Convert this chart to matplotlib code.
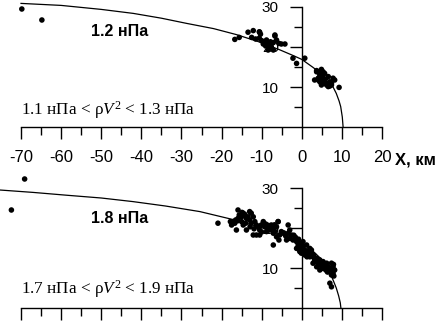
import matplotlib
matplotlib.use("Agg")
import matplotlib.pyplot as plt
from matplotlib.ticker import FixedLocator

plt.rcParams['font.family'] = ['Liberation Sans', 'DejaVu Sans']
plt.rcParams['mathtext.fontset'] = 'custom'
plt.rcParams['mathtext.rm'] = 'Liberation Serif'
plt.rcParams['mathtext.it'] = 'Liberation Serif:italic'

# ---------------- data ----------------
panel_labels = ["1.2 нПа", "1.8 нПа"]
range_labels = [r"1.1 нПа < ρ$V^2$ < 1.3 нПа", r"1.7 нПа < ρ$V^2$ < 1.9 нПа"]
x_ticks_major = [-70, -60, -50, -40, -30, -20, -10, 0, 10, 20]
x_tick_labels = ["-70", "-60", "-50", "-40", "-30", "-20", "-10", "0", "10", "20"]
y_ticks_major = [10, 20, 30]
y_tick_labels = ["10", "20", "30"]

# model curves
curve1_x = [-70, -60, -50, -42, -35, -28.7, -22, -16.3, -11, -5.5, -2, 0, 2.8, 5, 6.6, 7.8, 8.6, 9.3, 9.7, 10.1, 10.3]
curve1_y = [30.9, 30.4, 29.4, 28.4, 27.2, 25.9, 24.6, 23.1, 21.4, 19.3, 17.8, 16.9, 14.9, 13.2, 11.7, 10.0, 8.4, 6.5, 5.1, 2.5, 0.0]
curve2_x = [-75.3, -67, -58.7, -50, -42.1, -34, -25.4, -17.1, -10, -5, 0, 2.6, 4.7, 6.0, 7.0, 7.8, 8.6, 9.2, 9.6, 9.75]
curve2_y = [29.5, 28.9, 28.2, 27.5, 26.6, 25.5, 24.1, 22.1, 20.1, 18.3, 16.2, 14.4, 12.4, 10.6, 8.8, 7.0, 5.0, 3.0, 1.3, 0.0]

# observations, panel 1
obs1_x = [-69.8, -64.8,
          -16.7, -15.6, -13.4, -12.1, -10.6, -10.3, -12.5, -11.5, -10.6, -10.0, -9.5, -8.8,
          -9.6, -9.0, -8.4, -7.8, -7.1, -6.7, -6.3, -5.7, -5.1, -4.2, -8.0, -8.4, -7.1, -7.6,
          -10.5, -6.7,
          -2.2, -1.3, 0.75,
          3.7, 4.9, 4.5, 5.3, 4.1, 4.9, 5.7, 6.2, 7.0, 7.8, 7.4, 6.6, 5.7, 8.2, 9.3,
          4.5, 5.3, 5.2, 3.2, 4.5, 5.7, 4.9, 6.2, 7.0, 6.6, 7.4, 3.7, 4.1]
obs1_y = [29.5, 26.75,
          21.9, 22.4, 23.7, 24.1, 23.8, 23.2, 22.4, 22.0, 22.2, 21.6, 21.3, 21.75,
          20.75, 20.25, 20.9, 21.3, 21.1, 22.75, 21.75, 20.9, 20.75, 20.75, 19.7, 19.25, 19.25, 20.1,
          23.7, 23.0,
          17.2, 15.9, 17.2,
          14.1, 14.4, 13.0, 12.2, 11.75, 10.9, 11.3, 10.5, 10.25, 12.2, 10.9, 12.6, 13.4, 11.75, 9.9,
          13.4, 13.8, 12.6, 11.75, 11.3, 11.75, 10.5, 10.9, 11.3, 10.1, 10.5, 13.8, 12.2]

# observations, panel 2
obs2_x = [-72.4, -69.1, -20.9, -17.1,
          -17.5, -16.7, -16.5, -15.9, -15.6, -15.0, -14.6, -14.2, -13.8, -13.4, -13.0, -12.6, -12.1,
          -15.9, -15.0, -16.3, -13.8, -14.6, -12.6, -11.7, -11.3, -10.9, -10.5, -10.1, -9.6, -9.2,
          -8.8, -8.4, -8.0, -7.6, -7.1, -6.7, -6.3, -5.9, -6.3, -5.5, -7.1, -5.7, -5.1, -12.1,
          -11.3, -10.5, -3.4, -3.0, -3.4, -2.6, -3.0, -2.2, -1.3, -0.9, -0.5, -0.1, 0.3, 0.75,
          -0.5, 1.2, 1.6, 2.0, 2.4, 2.8, 2.0, 3.2, 3.7, 4.1, 4.5, 4.9, 5.3, 5.7, 6.2, 6.6, 7.0,
          7.4, 7.8, 8.2, 7.8, 7.4, 7.0, 7.4, 2.8, 3.7, 4.5, 5.3, 6.0, 6.6, 0.3, 0.75, 1.3, 2.4,
          -1.3, -0.1, -3.8, -5.9, -13.0,
          -14.0, -12.9, -11.9, -10.0, -9.0, -8.5, -7.2, -6.8, -4.5, -4.0, -2.0, -1.6, -0.8,
          1.0, 1.8, 3.0, 3.4, 4.3, 5.0, 5.8, 6.4, 7.6, 7.9, 8.0, -17.8, -16.0, -14.9]
obs2_y = [24.5, 32.25, 21.2, 21.6,
          20.75, 21.2, 22.0, 22.4, 23.25, 22.8, 23.7, 23.4, 22.4, 22.8, 22.0, 23.7, 22.8,
          24.5, 21.6, 19.5, 19.5, 20.75, 21.2, 21.6, 20.75, 20.3, 19.5, 20.75, 21.6, 20.3,
          19.1, 19.9, 19.5, 20.75, 18.7, 19.1, 20.3, 21.6, 17.8, 18.25, 15.75, 17.0, 19.1, 18.25,
          18.25, 18.25, 20.75, 19.5, 18.7, 18.25, 17.4, 17.0, 16.6, 15.75, 16.2, 14.9, 15.3, 14.5,
          14.1, 15.75, 14.1, 14.9, 13.7, 12.8, 12.8, 12.0, 12.4, 11.2, 12.0, 11.2, 11.6, 10.75, 11.2, 10.3, 9.9,
          11.2, 10.3, 9.5, 8.7, 8.25, 6.2, 5.3, 11.2, 10.3, 9.5, 9.9, 9.5, 9.1, 16.6, 13.25, 12.8, 14.5,
          14.9, 13.7, 17.0, 21.6, 24.1,
          21.2, 20.3, 19.8, 19.0, 21.0, 20.7, 19.9, 20.8, 18.8, 18.0, 18.2, 17.7, 17.2,
          14.0, 13.5, 13.2, 11.6, 10.8, 10.3, 10.0, 9.0, 9.6, 10.9, 8.0, 21.6, 21.8, 23.9]

# ---------------- figure ----------------
W, H = 439, 322
fig = plt.figure(figsize=(W / 100, H / 100), dpi=100)
XLIM = (-75.24, 34.21)

ax1 = fig.add_axes([0, 1 - 160 / H, 1, 160 / H])
ax2 = fig.add_axes([0, 0, 1, 162 / H])
ax1.set_ylim(-8.25, 31.75)
ax2.set_ylim(-3.5, 37.0)

panels = [
    (ax1, curve1_x, curve1_y, obs1_x, obs1_y, panel_labels[0], range_labels[0], 24.0, 3.2, True),
    (ax2, curve2_x, curve2_y, obs2_x, obs2_y, panel_labels[1], range_labels[1], 22.3, 3.6, False),
]

for ax, cx, cy, ox, oy, plab, rlab, plab_y, rlab_y, show_xlabels in panels:
    ax.set_xlim(*XLIM)
    ax.patch.set_visible(False)
    for s in ("top", "right"):
        ax.spines[s].set_visible(False)
    ax.spines["bottom"].set_position(("data", 0))
    ax.spines["left"].set_position(("data", 0))
    ax.spines["bottom"].set_bounds(-70, 20)
    ax.spines["left"].set_bounds(0, 30)
    for s in ("bottom", "left"):
        ax.spines[s].set_linewidth(1.0)
        ax.spines[s].set_color("black")

    ax.xaxis.set_major_locator(FixedLocator(x_ticks_major))
    ax.xaxis.set_minor_locator(FixedLocator([v + 5 for v in x_ticks_major[:-1]]))
    ax.yaxis.set_major_locator(FixedLocator(y_ticks_major))
    ax.yaxis.set_minor_locator(FixedLocator([5, 15, 25]))
    ax.tick_params(axis="both", which="major", direction="out", length=8.5, width=1.0, color="black")
    ax.tick_params(axis="both", which="minor", direction="out", length=5.5, width=1.0, color="black")
    ax.tick_params(axis="x", labelsize=12, pad=8)
    ax.tick_params(axis="y", labelsize=11, pad=8)
    if show_xlabels:
        ax.set_xticklabels(x_tick_labels)
    else:
        ax.tick_params(axis="x", labelbottom=False)
    ax.set_yticklabels(y_tick_labels)

    ax.plot(cx, cy, color="black", lw=0.9, zorder=3, clip_on=False)
    ax.scatter(ox, oy, s=16, color="black", edgecolors="none", zorder=4, clip_on=False)

    ax.text(-45.5, plab_y, plab, fontsize=11.5, fontweight="bold", ha="center", va="center")
    ax.text(-70, rlab_y, rlab, fontsize=12.3, family=["Liberation Serif", "DejaVu Serif"],
            ha="left", va="baseline")

ax1.text(23.2, -8.25, "X, км", fontsize=12, fontweight="bold", ha="left", va="center")

fig.savefig("out.png", dpi=100)
